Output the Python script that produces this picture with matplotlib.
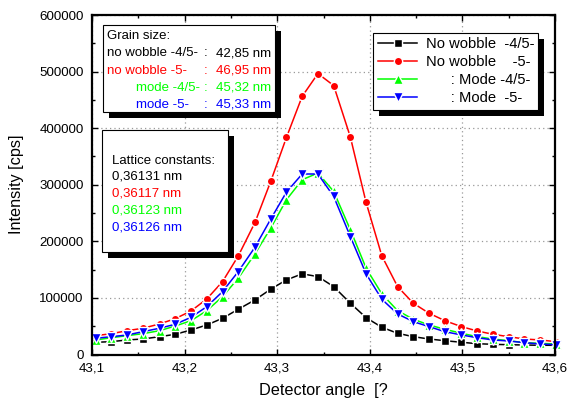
import matplotlib
matplotlib.use('Agg')
import matplotlib.pyplot as plt
from matplotlib.patches import Rectangle

plt.rcParams['font.family'] = ['Liberation Sans', 'DejaVu Sans']

# ── Data ───────────────────────────────────────────────────────────────────────
angle = [43.104, 43.121, 43.138, 43.155, 43.173, 43.190, 43.207, 43.224, 43.241, 43.258,
         43.276, 43.293, 43.310, 43.327, 43.344, 43.361, 43.379, 43.396, 43.413, 43.430,
         43.447, 43.464, 43.481, 43.499, 43.516, 43.533, 43.550, 43.567, 43.584, 43.601]

no_wobble_45 = [21600, 22700, 25700, 27400, 31500, 35700, 43400, 52200, 64000, 80000,
                96500, 115400, 131900, 142500, 137700, 120000, 90600, 65100, 48100, 37500,
                31500, 27400, 24400, 21600, 19100, 18000, 17300, 16800, 16300, 16300]
no_wobble_5 = [33300, 36800, 42100, 46400, 54000, 63400, 77000, 98200, 128900, 174300,
               233300, 305900, 383700, 456300, 496500, 475300, 384400, 268700, 174300, 120000,
               90600, 72900, 59800, 49200, 41600, 35700, 31500, 27400, 25700, 22700]
mode_45 = [25700, 29700, 33300, 36800, 42100, 50400, 59800, 77500, 102300, 134900,
           177900, 223400, 273500, 308900, 320700, 288200, 220400, 152600, 107100, 77500,
           62300, 52200, 44600, 37500, 31500, 27400, 24400, 20900, 19800, 18600]
mode_5 = [28700, 31500, 34500, 40400, 46400, 53500, 65800, 84600, 111200, 146600,
          189700, 239300, 287100, 319000, 319000, 279300, 208500, 142500, 97700, 71700,
          58100, 49200, 40400, 34500, 29700, 25700, 23900, 20900, 18600, 17300]

x_ticks = [43.1, 43.2, 43.3, 43.4, 43.5, 43.6]
x_ticklabels = ['43,1', '43,2', '43,3', '43,4', '43,5', '43,6']
y_ticks = [0, 100000, 200000, 300000, 400000, 500000, 600000]

series = [
    (no_wobble_45, 'black', 's', 5.2, 'No wobble  -4/5-'),
    (no_wobble_5, 'red', 'o', 6.0, 'No wobble    -5-'),
    (mode_45, '#00ff00', '^', 6.8, '      : Mode -4/5-'),
    (mode_5, 'blue', 'v', 6.8, '      : Mode  -5-'),
]

grain_lines = [
    ('no wobble -4/5-', '42,85 nm', 'black', 107),
    ('no wobble -5-', '46,95 nm', 'red', 107),
    ('mode -4/5-', '45,32 nm', '#00ff00', 136),
    ('mode -5-', '45,33 nm', 'blue', 136),
]
lattice_lines = [
    ('0,36131 nm', 'black'),
    ('0,36117 nm', 'red'),
    ('0,36123 nm', '#00ff00'),
    ('0,36126 nm', 'blue'),
]

# ── Figure ─────────────────────────────────────────────────────────────────────
W, H = 572, 405
fig = plt.figure(figsize=(W / 100, H / 100), dpi=100)


def fx(px):
    return px / W


def fy(py):
    return 1 - py / H


ax = fig.add_axes([fx(92), fy(354.5), (555 - 92) / W, (354.5 - 15) / H])

for ys, col, mk, ms, lab in series:
    ax.plot(angle, ys, color=col, lw=1.1, marker=mk, ms=ms, mfc=col,
            mec='white', mew=1.0, label=lab, clip_on=False)

ax.set_xlim(43.1, 43.6)
ax.set_ylim(0, 600000)
ax.set_xticks(x_ticks)
ax.set_xticklabels(x_ticklabels)
ax.set_yticks(y_ticks)
ax.set_yticklabels([str(v) for v in y_ticks])
ax.set_xticks([43.15, 43.25, 43.35, 43.45, 43.55], minor=True)
ax.set_yticks([50000, 150000, 250000, 350000, 450000, 550000], minor=True)
ax.tick_params(which='both', direction='in', top=True, right=True,
               labelsize=9.6, colors='black', width=1.0)
ax.tick_params(which='major', length=4.5, pad=6)
ax.tick_params(which='minor', length=2.5)
ax.grid(True, which='major', ls=(0, (1, 2.5)), color='#999999', lw=0.9)
for sp in ax.spines.values():
    sp.set_linewidth(1.6)

ax.set_xlabel('Detector angle  [?', fontsize=11.7, labelpad=6)
ax.set_ylabel('Intensity [cps]', fontsize=11.7, labelpad=6)
ax.yaxis.set_label_coords(-(92 - 24) / (555 - 92), 0.5)

# figure-level legend so the black shadow can sit between the axes and the box
handles, labels = ax.get_legend_handles_labels()
leg = fig.legend(handles, labels, loc='upper left',
                 bbox_to_anchor=(fx(373.3), fy(32.7)),
                 borderaxespad=0, fontsize=10.6, frameon=True, fancybox=False,
                 handlelength=2.7, handletextpad=0.55, labelspacing=0.28,
                 borderpad=0.3)
leg.get_frame().set_edgecolor('black')
leg.get_frame().set_linewidth(0.8)
leg.get_frame().set_alpha(1)
leg.set_zorder(5)

fig.canvas.draw()
bb = leg.get_window_extent()
fig.add_artist(Rectangle(((bb.x0 + 6) / W, (bb.y0 - 6) / H), bb.width / W, bb.height / H,
                         transform=fig.transFigure, facecolor='black',
                         edgecolor='none', zorder=3))


def text_box(x0, y0, x1, y1):
    fig.add_artist(Rectangle((fx(x0 + 6), fy(y1 + 6)), (x1 - x0) / W, (y1 - y0) / H,
                             transform=fig.transFigure, facecolor='black',
                             edgecolor='none', zorder=3))
    fig.add_artist(Rectangle((fx(x0), fy(y1)), (x1 - x0) / W, (y1 - y0) / H,
                             transform=fig.transFigure, facecolor='white',
                             edgecolor='black', lw=0.8, zorder=4))


fs = 9.5
text_box(102.7, 25, 275, 112)
fig.text(fx(107), fy(36), 'Grain size:', fontsize=fs, va='center', zorder=6)
for k, (name, val, col, xs) in enumerate(grain_lines):
    yy = fy(53.3 + k * 17.2)
    fig.text(fx(xs), yy, name, color=col, fontsize=fs, va='center', zorder=6)
    fig.text(fx(204), yy, ':', color=col, fontsize=fs, va='center', zorder=6)
    fig.text(fx(216.5), yy, val, color=col, fontsize=fs, va='center', zorder=6)

text_box(102.3, 130, 227.7, 252)
fig.text(fx(112.5), fy(160.7), 'Lattice constants:', fontsize=fs, va='center', zorder=6)
for k, (val, col) in enumerate(lattice_lines):
    fig.text(fx(112.5), fy(176.5 + k * 16.9), val, color=col, fontsize=fs,
             va='center', zorder=6)

fig.savefig('out.png', dpi=100)
